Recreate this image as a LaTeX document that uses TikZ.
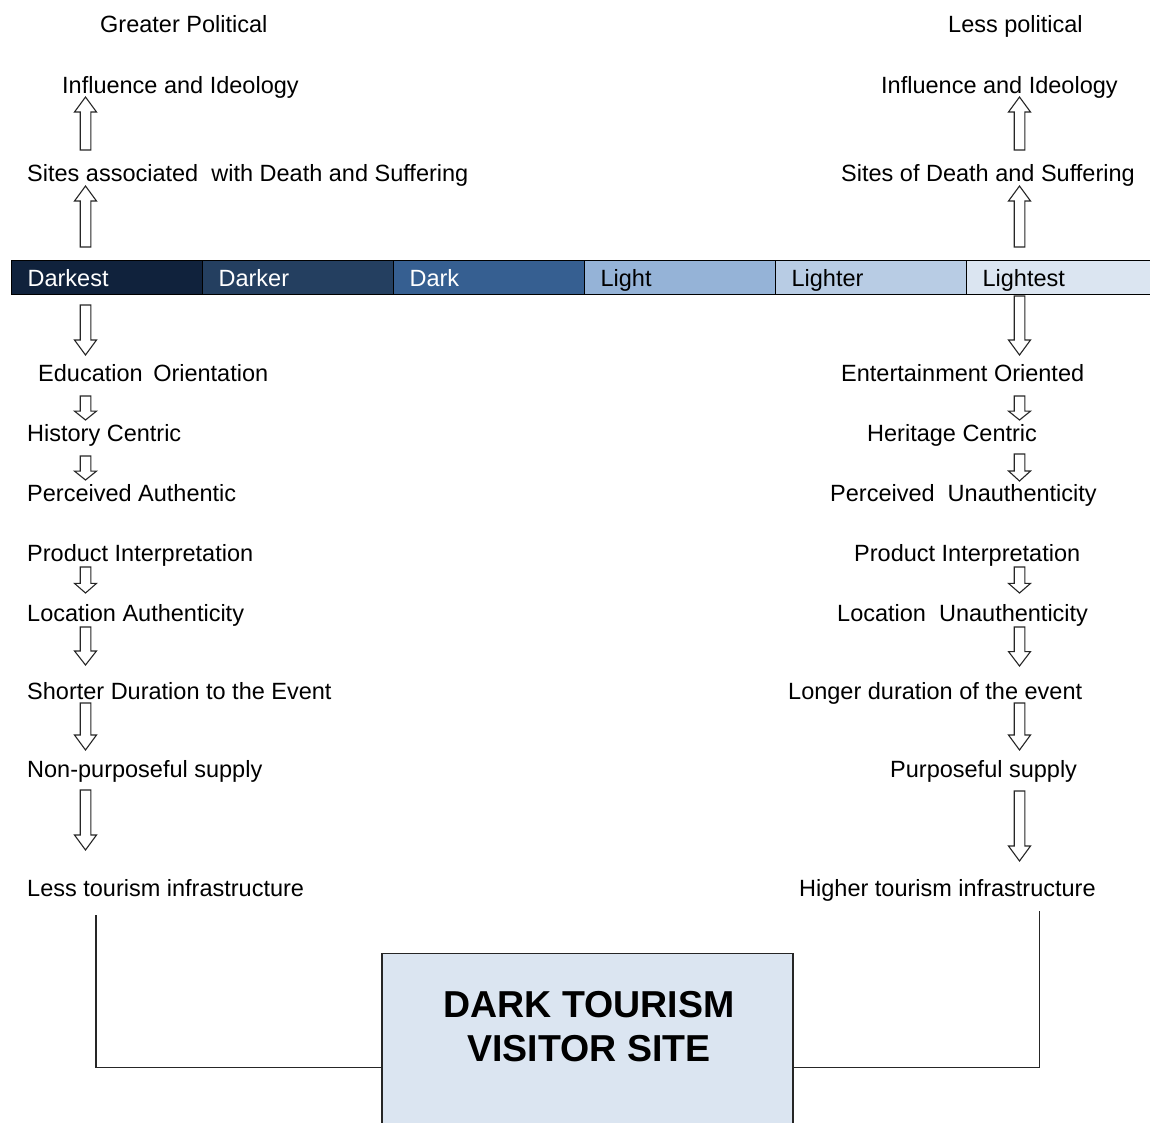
\documentclass[tikz,border=0pt]{standalone}
\usepackage{fontspec}
\setmainfont{Liberation Sans}
\definecolor{darkest}{HTML}{10223C}
\definecolor{darker}{HTML}{243F60}
\definecolor{dark}{HTML}{365F91}
\definecolor{light}{HTML}{95B3D7}
\definecolor{lighter}{HTML}{B8CCE4}
\definecolor{lightest}{HTML}{DBE5F1}
\definecolor{boxblue}{HTML}{DBE5F1}
% hollow block arrow: #1 = x, #2 = y of tail, #3 = y of tip
\newcommand\bkarrow[3]{%
  \pgfmathsetmacro\bklen{abs(#3-#2)}%
  \pgfmathsetmacro\bkhead{min(15,0.37*\bklen)}%
  \pgfmathsetmacro\bksgn{(#3>#2)?1:-1}%
  \pgfmathsetmacro\bkneck{#3-\bksgn*\bkhead}%
  \draw[blockarrow] (#1-5.3,#2) -- (#1+5.3,#2) -- (#1+5.3,\bkneck) -- (#1+11,\bkneck)
    -- (#1,#3) -- (#1-11,\bkneck) -- (#1-5.3,\bkneck) -- cycle;}
\begin{document}
\begin{tikzpicture}[x=1pt,y=-1pt,
  txt/.style={anchor=base west, inner sep=0pt, font=\fontsize{23.5}{28}\selectfont},
  seg/.style={draw=black, line width=1.2pt, anchor=north west, inner ysep=0pt, inner xsep=16pt,
    text width=159pt, align=left, minimum height=34pt, text height=17pt, text depth=0pt,
    font=\fontsize{23.5}{28}\selectfont},
  blockarrow/.style={draw=black!85, fill=white, line width=1.1pt, line join=miter},
  link/.style={draw=black!85, line width=1.4pt},
  sitebox/.style={draw=black!85, line width=1.4pt, fill=boxblue, minimum width=411pt,
    minimum height=228pt, anchor=north, inner sep=0pt}
]
\useasboundingbox (0,0) rectangle (1150,1122);
\clip (0,0) rectangle (1150,1122);

% headings above the scale
\node[txt] (lhead) at (100,32) {Greater Political};
\node[txt] (rhead) at (948,32) {Less political};
\node[txt] (linfl) at (62,93) {Influence and Ideology};
\node[txt] (rinfl) at (881,93) {Influence and Ideology};
\node[txt] (lsites) at (27,181) {Sites associated\ \ with Death and Suffering};
\node[txt] (rsites) at (841,181) {Sites of Death and Suffering};

% the dark-to-light scale
\node[seg, fill=darkest, text=white] (s1) at (11,260) {Darkest};
\node[seg, fill=darker, text=white] (s2) at (202,260) {Darker};
\node[seg, fill=dark, text=white] (s3) at (393,260) {Dark};
\node[seg, fill=light] (s4) at (584,260) {Light};
\node[seg, fill=lighter] (s5) at (775,260) {Lighter};
\node[seg, fill=lightest] (s6) at (966,260) {Lightest};

% left column
\node[txt] (l1) at (38,381) {Education\hspace{0.45em}Orientation};
\node[txt] (l2) at (27,441) {History Centric};
\node[txt] (l3) at (27,501) {Perceived Authentic};
\node[txt] (l4) at (27,561) {Product Interpretation};
\node[txt] (l5) at (27,621) {Location Authenticity};
\node[txt] (l6) at (27,699) {Shorter Duration to the Event};
\node[txt] (l7) at (27,777) {Non-purposeful supply};
\node[txt] (l8) at (27,896) {Less tourism infrastructure};

% right column
\node[txt] (r1) at (841,381) {Entertainment Oriented};
\node[txt] (r2) at (867,441) {Heritage Centric};
\node[txt] (r3) at (830,501) {Perceived\ \ Unauthenticity};
\node[txt] (r4) at (854,561) {Product Interpretation};
\node[txt] (r5) at (837,621) {Location\ \ Unauthenticity};
\node[txt] (r6) at (788,699) {Longer duration of the event};
\node[txt] (r7) at (890,777) {Purposeful supply};
\node[txt] (r8) at (799,896) {Higher tourism infrastructure};

% block arrows, left
\bkarrow{85.5}{150}{97}
\bkarrow{85.5}{247}{186}
\bkarrow{85.5}{305}{355}
\bkarrow{85.5}{396}{420}
\bkarrow{85.5}{456}{480}
\bkarrow{85.5}{567}{593}
\bkarrow{85.5}{627}{665}
\bkarrow{85.5}{703}{750}
\bkarrow{85.5}{790}{850}

% block arrows, right
\bkarrow{1019.5}{150}{97}
\bkarrow{1019.5}{247}{186}
\bkarrow{1019.5}{296}{355}
\bkarrow{1019.5}{396}{420}
\bkarrow{1019.5}{454}{481}
\bkarrow{1019.5}{567}{593}
\bkarrow{1019.5}{627}{666}
\bkarrow{1019.5}{703}{750}
\bkarrow{1019.5}{791}{861}

% visitor site box
\node[sitebox] (site) at (587.5,953) {};
\node[inner sep=0pt, align=center, font=\bfseries\fontsize{37.5}{44}\selectfont]
  (sitetitle) at (589,1026.5) {DARK TOURISM\\VISITOR SITE};

% links from both columns to the box
\coordinate (lend) at (96,915);
\coordinate (rend) at (1039.5,911);
\draw[link] (lend) |- (site.west);
\draw[link] (rend) |- (site.east);
\end{tikzpicture}
\end{document}
